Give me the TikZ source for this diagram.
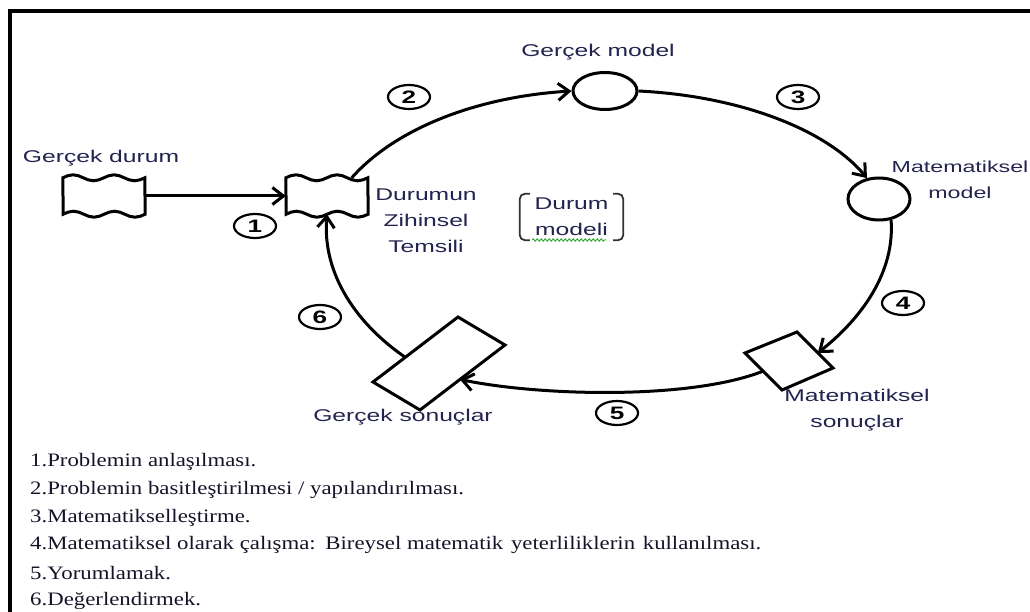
\documentclass[tikz,border=0pt]{standalone}
\usepackage{fontspec}
\setmainfont{Liberation Serif}[FakeStretch=1.2]
\newfontfamily\labfont{Liberation Sans}[FakeStretch=1.45]
\usetikzlibrary{arrows.meta,calc,shapes.geometric,decorations.pathmorphing}

\definecolor{labcol}{RGB}{35,35,80}
\definecolor{listcol}{RGB}{20,20,40}
\definecolor{squig}{RGB}{60,170,60}

% wavy (tape-like) outline around a named node of 82 x 36
\newcommand\tapeoutline[1]{%
  \draw[outline] (#1.north west)
    sin ++(10.25,-3) cos ++(10.25,3) sin ++(10.25,3) cos ++(10.25,-3)
    sin ++(10.25,-3) cos ++(10.25,3) sin ++(10.25,3) cos ++(10.25,-3)
    -- (#1.south east)
    sin ++(-10.25,3) cos ++(-10.25,-3) sin ++(-10.25,-3) cos ++(-10.25,3)
    sin ++(-10.25,3) cos ++(-10.25,-3) sin ++(-10.25,-3) cos ++(-10.25,3)
    -- cycle;}

\begin{document}
\begin{tikzpicture}[x=1pt,y=-1pt,
  lab/.style={font=\labfont\fontsize{17}{26}\selectfont, text=labcol, align=center, inner sep=0pt},
  flow/.style={line width=3pt, -{Straight Barb[length=11pt,width=17pt]}},
  outline/.style={line width=3pt, line join=miter},
  blob/.style={ellipse, draw, line width=3pt, fill=white, inner sep=0pt},
  num/.style={ellipse, draw, line width=2.2pt, minimum width=42pt, minimum height=24pt,
              inner sep=0pt, font=\labfont\bfseries\fontsize{18}{18}\selectfont},
  item/.style={anchor=west, inner sep=0pt, text=listcol, font=\fontsize{19}{19}\selectfont},
  tapebox/.style={minimum width=82pt, minimum height=36pt, inner sep=0pt},
  bracket/.style={line width=1.8pt, draw=black!80, rounded corners=5pt}
]
\useasboundingbox (0,0) rectangle (1030,612);

% frame
\draw[line width=4pt] (10,612) -- (10,11) -- (1030,11);

% shapes of the cycle
\node[tapebox] (gd) at (104,196) {};
\node[tapebox] (dz) at (327,196) {};
\tapeoutline{gd}
\tapeoutline{dz}
\node[blob, minimum width=64pt, minimum height=37pt] (gm) at (605,91) {};
\node[blob, minimum width=62pt, minimum height=42pt] (mm) at (879,199) {};

\coordinate (ms-l) at (745,353);
\coordinate (ms-t) at (797,332);
\coordinate (ms-r) at (833,368);
\coordinate (ms-b) at (782,390);
\coordinate (gs-l) at (373,382);
\coordinate (gs-t) at (458,317);
\coordinate (gs-r) at (505,345);
\coordinate (gs-b) at (420,410);
\draw[outline] (ms-l) -- (ms-t) -- (ms-r) -- (ms-b) -- cycle;
\draw[outline] (gs-l) -- (gs-t) -- (gs-r) -- (gs-b) -- cycle;

% connectors
\draw[flow] (gd.east) -- (dz.west);
\draw[flow] ($(dz.north west)!0.8!(dz.north east)$) .. controls (394,130) and (474,97) .. (gm.west);
\draw[flow] (gm.east) .. controls (739,96) and (826,129) .. (mm.120);
\draw[flow] (mm.-60) .. controls (895,272) and (862,318) .. ($(ms-t)!0.58!(ms-r)$);
\draw[flow] ($(ms-b)!0.51!(ms-l)$) .. controls (690,400) and (540,396) .. ($(gs-r)!0.53!(gs-b)$);
\draw[flow] ($(gs-l)!0.38!(gs-t)$) .. controls (358,325) and (322,275) .. (dz.south);

% step numbers
\node[num] (n1) at (255,226) {1};
\node[num] (n2) at (409,97) {2};
\node[num] (n3) at (798,97) {3};
\node[num] (n4) at (903,303) {4};
\node[num] (n5) at (617,413) {5};
\node[num] (n6) at (320,317) {6};

% labels
\node[lab] (t-gd) at (101,158) {Gerçek durum};
\node[lab] (t-dz) at (426,221) {Durumun\\Zihinsel\\Temsili};
\node[lab] (t-gm) at (598,52) {Gerçek model};
\node[lab, font=\labfont\fontsize{16}{26}\selectfont] (t-mm) at (960,180) {Matematiksel\\model};
\node[lab] (t-ms) at (857,410) {Matematiksel\\sonuçlar};
\node[lab] (t-gs) at (403,417) {Gerçek sonuçlar};

% situation model, in brackets
\node[lab, minimum width=103pt, minimum height=46pt] (dm) at (571.5,217) {Durum\\modeli};
\draw[bracket] ([xshift=10pt]dm.north west) -- (dm.north west) -- (dm.south west) -- ([xshift=10pt]dm.south west);
\draw[bracket] ([xshift=-10pt]dm.north east) -- (dm.north east) -- (dm.south east) -- ([xshift=-10pt]dm.south east);
\draw[squig, line width=1pt, decorate, decoration={snake, amplitude=1.2pt, segment length=4pt}]
  (532,240) -- (606,240);

% legend
\node[item] (l1) at (30,462) {1.Problemin anlaşılması.};
\node[item] (l2) at (30,490) {2.Problemin basitleştirilmesi / yapılandırılması.};
\node[item] (l3) at (30,518) {3.Matematikselleştirme.};
\node[item] (l4) at (30,545) {4.Matematiksel olarak çalışma:\hspace{2pt} Bireysel matematik\hspace{2pt} yeterliliklerin\hspace{2pt} kullanılması.};
\node[item] (l5) at (30,573) {5.Yorumlamak.};
\node[item] (l6) at (30,601) {6.Değerlendirmek.};
\end{tikzpicture}
\end{document}
